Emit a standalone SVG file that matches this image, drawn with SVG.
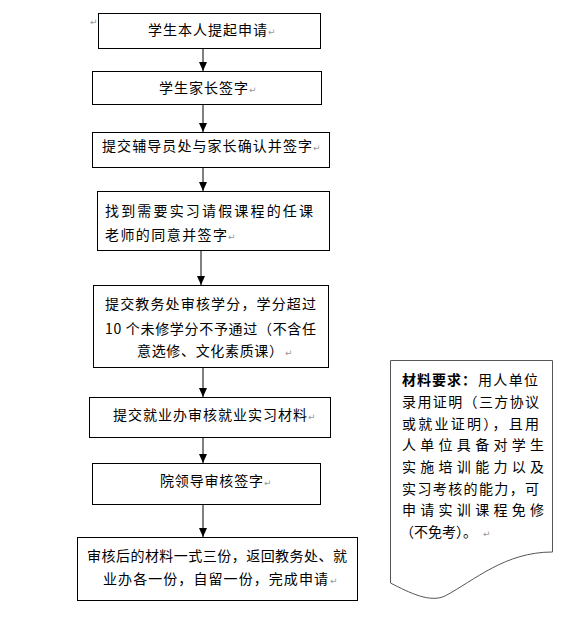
<svg xmlns="http://www.w3.org/2000/svg" width="574" height="628" viewBox="0 0 574 628">
<style>
.box{fill:#fff;stroke:#000;stroke-width:1}
.note{fill:#fff;stroke:#555;stroke-width:1}
.t{font-family:"Noto Sans CJK SC","Noto Sans CJK JP",sans-serif;font-size:14px;fill:#000}
.b{font-weight:bold}
.pm{font-family:"DejaVu Sans",sans-serif;font-size:9px;fill:#999}
.conn line{stroke:#000;stroke-width:1}
</style>
<defs>
<marker id="ah" viewBox="0 0 9 8" refX="9" refY="4" markerWidth="9" markerHeight="8" markerUnits="userSpaceOnUse" orient="auto">
<path d="M0,0 L9,4 L0,8 z" fill="#000"/>
</marker>
</defs>
<rect width="574" height="628" fill="#fff"/>
<text class="pm" x="90" y="25">↵</text>

<g class="conn">
<line x1="203" y1="48" x2="203" y2="71" marker-end="url(#ah)"/>
<line x1="203" y1="104" x2="203" y2="132" marker-end="url(#ah)"/>
<line x1="203" y1="168" x2="203" y2="191" marker-end="url(#ah)"/>
<line x1="201" y1="250" x2="201" y2="285" marker-end="url(#ah)"/>
<line x1="203" y1="367" x2="203" y2="397" marker-end="url(#ah)"/>
<line x1="203" y1="437" x2="203" y2="463" marker-end="url(#ah)"/>
<line x1="203" y1="504" x2="203" y2="537" marker-end="url(#ah)"/>
</g>

<g id="n1">
<rect class="box" x="98.5" y="13.5" width="222" height="35"/>
<text class="t" x="148" y="35" textLength="119" lengthAdjust="spacing">学生本人提起申请</text>
<text class="pm" x="268" y="35">↵</text>
</g>
<g id="n2">
<rect class="box" x="92.5" y="71.5" width="229" height="33"/>
<text class="t" x="159" y="92.5" textLength="89" lengthAdjust="spacing">学生家长签字</text>
<text class="pm" x="249" y="92.5">↵</text>
</g>
<g id="n3">
<rect class="box" x="92.5" y="132.5" width="237" height="35"/>
<text class="t" x="102" y="150.5" textLength="210" lengthAdjust="spacing">提交辅导员处与家长确认并签字</text>
<text class="pm" x="313" y="150.5">↵</text>
</g>
<g id="n4">
<rect class="box" x="97.5" y="191.5" width="232" height="59"/>
<text class="t" x="105" y="215.5" textLength="208" lengthAdjust="spacing">找到需要实习请假课程的任课</text>
<text class="t" x="105" y="239.5" textLength="122" lengthAdjust="spacing">老师的同意并签字</text>
<text class="pm" x="228" y="239.5">↵</text>
</g>
<g id="n5">
<rect class="box" x="93.5" y="285.5" width="235" height="82"/>
<text class="t" x="105" y="308.5" textLength="211" lengthAdjust="spacing">提交教务处审核学分，学分超过</text>
<text class="t" x="105" y="334" textLength="211" lengthAdjust="spacing">10 个未修学分不予通过（不含任</text>
<text class="t" x="137" y="356" textLength="146" lengthAdjust="spacing">意选修、文化素质课）</text>
<text class="pm" x="285" y="356">↵</text>
</g>
<g id="n6">
<rect class="box" x="89.5" y="397.5" width="241" height="40"/>
<text class="t" x="113" y="419.5" textLength="194" lengthAdjust="spacing">提交就业办审核就业实习材料</text>
<text class="pm" x="308" y="419.5">↵</text>
</g>
<g id="n7">
<rect class="box" x="92.5" y="463.5" width="228" height="41"/>
<text class="t" x="160" y="486" textLength="103" lengthAdjust="spacing">院领导审核签字</text>
<text class="pm" x="264" y="486">↵</text>
</g>
<g id="n8">
<rect class="box" x="77.5" y="537.5" width="280" height="63"/>
<text class="t" x="87" y="560.5" textLength="260" lengthAdjust="spacing">审核后的材料一式三份，返回教务处、就</text>
<text class="t" x="103" y="583.5" textLength="225" lengthAdjust="spacing">业办各一份，自留一份，完成申请</text>
<text class="pm" x="330" y="583.5">↵</text>
</g>

<g id="note">
<path class="note" d="M390.5,360.5 H552.5 V552 C505,552 475,580 445,596 C430,603 410,593 390.5,583 Z"/>
<text class="t" y="385"><tspan class="b" x="402" textLength="74" lengthAdjust="spacing">材料要求：</tspan><tspan x="478" textLength="60" lengthAdjust="spacing">用人单位</tspan></text>
<text class="t" x="402" y="406.5" textLength="137" lengthAdjust="spacing">录用证明（三方协议</text>
<text class="t" x="402" y="428.5" textLength="137" lengthAdjust="spacing">或就业证明），且用</text>
<text class="t" x="402" y="450" textLength="142" lengthAdjust="spacing">人单位具备对学生</text>
<text class="t" x="402" y="471.5" textLength="142" lengthAdjust="spacing">实施培训能力以及</text>
<text class="t" x="402" y="493.5" textLength="137" lengthAdjust="spacing">实习考核的能力，可</text>
<text class="t" x="402" y="515" textLength="142" lengthAdjust="spacing">申请实训课程免修</text>
<text class="t" x="400" y="536.5">（不免考）。</text>
<text class="pm" x="483" y="536.5">↵</text>
</g>
</svg>
